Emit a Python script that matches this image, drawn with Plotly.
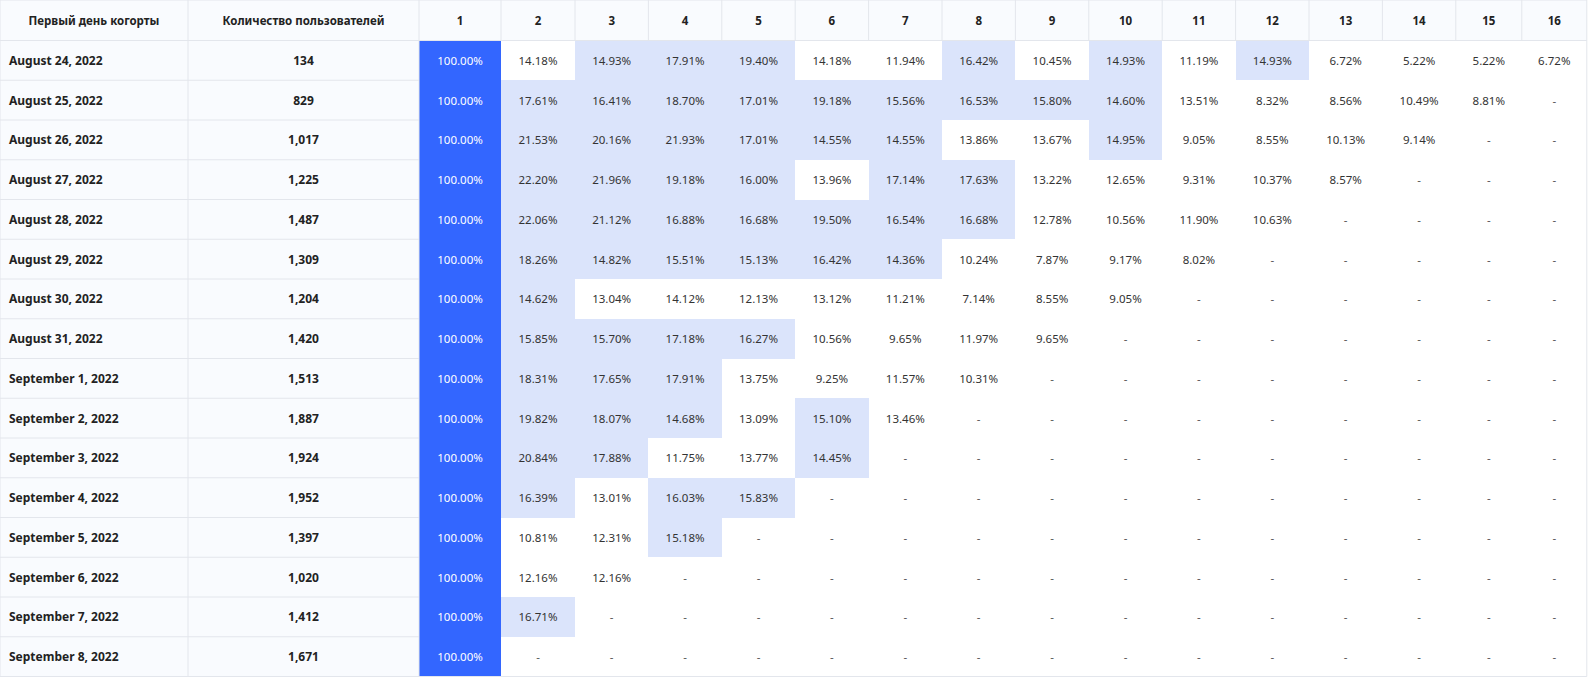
import plotly.graph_objects as go

# cohort table data
cohort_days = ["August 24, 2022", "August 25, 2022", "August 26, 2022", "August 27, 2022",
               "August 28, 2022", "August 29, 2022", "August 30, 2022", "August 31, 2022",
               "September 1, 2022", "September 2, 2022", "September 3, 2022", "September 4, 2022",
               "September 5, 2022", "September 6, 2022", "September 7, 2022", "September 8, 2022"]
users = [134, 829, 1017, 1225, 1487, 1309, 1204, 1420, 1513, 1887, 1924, 1952, 1397, 1020, 1412, 1671]
header_left = ["Первый день когорты", "Количество пользователей"]
day_labels = [str(i) for i in range(1, 17)]

retention = [
    [100, 14.18, 14.93, 17.91, 19.40, 14.18, 11.94, 16.42, 10.45, 14.93, 11.19, 14.93, 6.72, 5.22, 5.22, 6.72],
    [100, 17.61, 16.41, 18.70, 17.01, 19.18, 15.56, 16.53, 15.80, 14.60, 13.51, 8.32, 8.56, 10.49, 8.81],
    [100, 21.53, 20.16, 21.93, 17.01, 14.55, 14.55, 13.86, 13.67, 14.95, 9.05, 8.55, 10.13, 9.14],
    [100, 22.20, 21.96, 19.18, 16.00, 13.96, 17.14, 17.63, 13.22, 12.65, 9.31, 10.37, 8.57],
    [100, 22.06, 21.12, 16.88, 16.68, 19.50, 16.54, 16.68, 12.78, 10.56, 11.90, 10.63],
    [100, 18.26, 14.82, 15.51, 15.13, 16.42, 14.36, 10.24, 7.87, 9.17, 8.02],
    [100, 14.62, 13.04, 14.12, 12.13, 13.12, 11.21, 7.14, 8.55, 9.05],
    [100, 15.85, 15.70, 17.18, 16.27, 10.56, 9.65, 11.97, 9.65],
    [100, 18.31, 17.65, 17.91, 13.75, 9.25, 11.57, 10.31],
    [100, 19.82, 18.07, 14.68, 13.09, 15.10, 13.46],
    [100, 20.84, 17.88, 11.75, 13.77, 14.45],
    [100, 16.39, 13.01, 16.03, 15.83],
    [100, 10.81, 12.31, 15.18],
    [100, 12.16, 12.16],
    [100, 16.71],
    [100],
]

highlight_from = 14.3  # retention above this gets the light blue fill

# styling
WHITE = "#ffffff"
LIGHT = "#dbe4fb"
DARK = "#3366ff"
SIDE = "#f9fbfe"
GRID = "#e3e6ec"
FONT = "Noto Sans"

col_widths = [188, 231, 82, 74] + [73.4] * 12 + [66, 65]
header_h = 40.5
row_h = 39.75
text_dy = 1.5  # nudge text down, the text box includes descenders

x_edges = [0]
for w in col_widths:
    x_edges.append(x_edges[-1] + w)
y_edges = [0, header_h]
for _ in cohort_days:
    y_edges.append(y_edges[-1] + row_h)
x_mid = [(a + b) / 2 for a, b in zip(x_edges[:-1], x_edges[1:])]
y_mid = [(a + b) / 2 + text_dy for a, b in zip(y_edges[:-1], y_edges[1:])]

n_rows = len(cohort_days)
n_days = len(day_labels)

# fill codes: 0 white, 1 light blue, 2 dark blue, 3 side/header
z = [[3] * (2 + n_days)]
for i in range(n_rows):
    row = [3, 3]
    for j in range(n_days):
        if j < len(retention[i]):
            v = retention[i][j]
            row.append(2 if v >= 100 else (1 if v >= highlight_from else 0))
        else:
            row.append(0)
    z.append(row)

fig = go.Figure()
fig.add_trace(go.Heatmap(
    x=x_edges, y=y_edges, z=z,
    zmin=0, zmax=3,
    colorscale=[[0, WHITE], [1 / 3, LIGHT], [2 / 3, DARK], [1, SIDE]],
    showscale=False, hoverinfo="skip",
))

# header text
fig.add_trace(go.Scatter(
    x=x_mid, y=[y_mid[0]] * len(x_mid),
    text=["<b>%s</b>" % t for t in header_left + day_labels],
    mode="text", textposition="middle center",
    textfont=dict(family=FONT, size=11.5, color="#222222"),
    hoverinfo="skip", showlegend=False,
))

# cohort dates (left aligned)
fig.add_trace(go.Scatter(
    x=[x_edges[0] + 9] * n_rows, y=y_mid[1:],
    text=["<b>%s</b>" % d for d in cohort_days],
    mode="text", textposition="middle right",
    textfont=dict(family=FONT, size=12, color="#222222"),
    hoverinfo="skip", showlegend=False,
))

# user counts
fig.add_trace(go.Scatter(
    x=[x_mid[1]] * n_rows, y=y_mid[1:],
    text=["<b>{:,}</b>".format(u) for u in users],
    mode="text", textposition="middle center",
    textfont=dict(family=FONT, size=12, color="#222222"),
    hoverinfo="skip", showlegend=False,
))

# retention values
px, py, pt, pc = [], [], [], []
for i in range(n_rows):
    for j in range(n_days):
        px.append(x_mid[2 + j])
        py.append(y_mid[1 + i])
        if j < len(retention[i]):
            v = retention[i][j]
            pt.append("%.2f%%" % v)
            pc.append(WHITE if v >= 100 else "#333333")
        else:
            pt.append("-")
            pc.append("#555555")
fig.add_trace(go.Scatter(
    x=px, y=py, text=pt,
    mode="text", textposition="middle center",
    textfont=dict(family=FONT, size=11.5, color=pc),
    hoverinfo="skip", showlegend=False,
))

# grid lines: header cells, left columns, outer frame
line = dict(color=GRID, width=1)
shapes = []
for y in y_edges:
    x_end = x_edges[-1] if y in (y_edges[0], y_edges[1], y_edges[-1]) else x_edges[2]
    shapes.append(dict(type="line", x0=0, x1=x_end, y0=y, y1=y, line=line))
for k, x in enumerate(x_edges):
    y_end = y_edges[-1] if k in (0, 1, 2, len(x_edges) - 1) else y_edges[1]
    shapes.append(dict(type="line", x0=x, x1=x, y0=0, y1=y_end, line=line))

fig.update_layout(
    width=1589,
    height=680,
    margin=dict(l=0, r=0, t=0, b=0),
    paper_bgcolor="white",
    plot_bgcolor="white",
    shapes=shapes,
    xaxis=dict(range=[0, 1589], visible=False, fixedrange=True),
    yaxis=dict(range=[680, 0], visible=False, fixedrange=True),
    showlegend=False,
)

# page body has a default 8px margin; drop it so the table sits at the corner
fig.write_html("out.html", config=dict(displayModeBar=False),
               post_script="document.body.style.margin='0';")
